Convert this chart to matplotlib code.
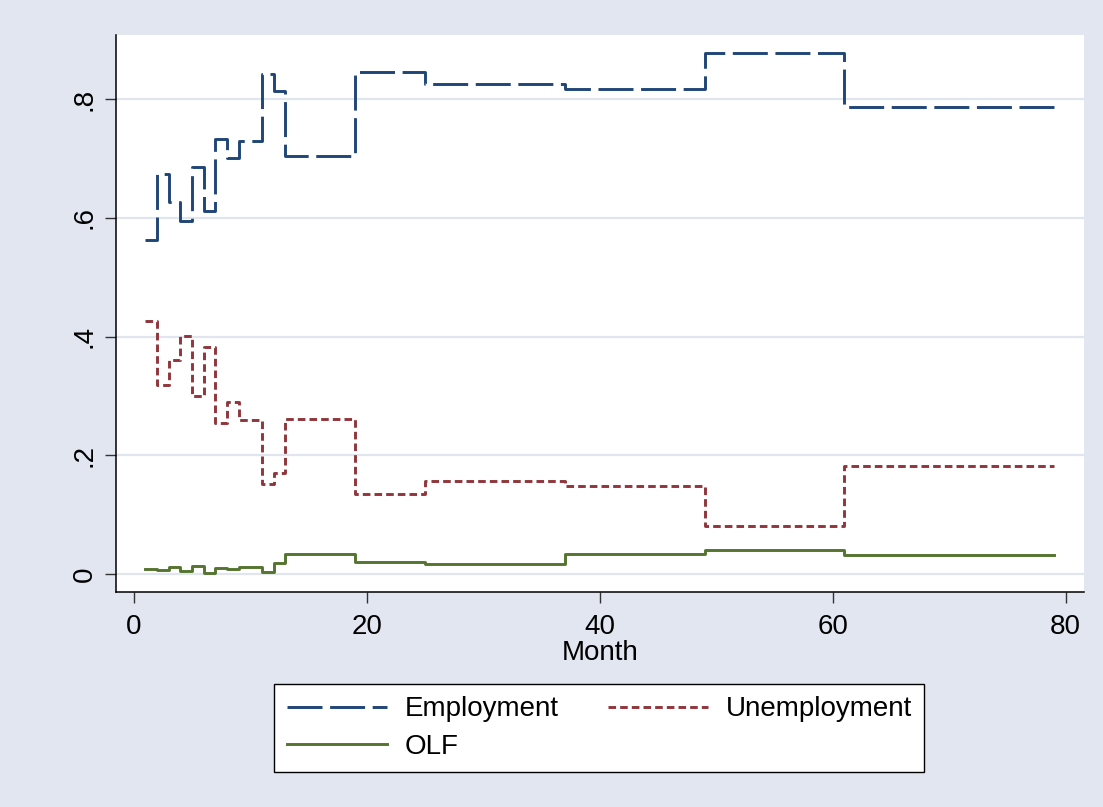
import matplotlib
matplotlib.use('Agg')
import matplotlib.pyplot as plt

plt.rcParams['font.family'] = ['Liberation Sans', 'DejaVu Sans']

months = [1, 2, 3, 4, 5, 6, 7, 8, 9, 11, 12, 13, 19, 25, 37, 49, 61, 79]
employment = [0.563, 0.674, 0.626, 0.594, 0.685, 0.612, 0.733, 0.700, 0.729,
              0.842, 0.813, 0.704, 0.845, 0.825, 0.817, 0.877, 0.786, 0.786]
unemployment = [0.427, 0.318, 0.361, 0.401, 0.300, 0.383, 0.255, 0.289, 0.260,
                0.152, 0.170, 0.261, 0.134, 0.157, 0.148, 0.081, 0.182, 0.182]
olf = [0.008, 0.006, 0.012, 0.005, 0.013, 0.002, 0.010, 0.009, 0.011,
       0.004, 0.018, 0.034, 0.020, 0.017, 0.034, 0.040, 0.032, 0.032]

xticks = [0, 20, 40, 60, 80]
yticks = [0, 0.2, 0.4, 0.6, 0.8]
ylabels = ['0', '.2', '.4', '.6', '.8']

bg = '#e1e6f0'
grid_c = '#e1e6ee'
fs = 20

fig = plt.figure(figsize=(11.03, 8.07), dpi=100, facecolor=bg)
ax = fig.add_axes([0.1052, 0.2664, 0.8776, 0.6902])
ax.set_facecolor('white')

lw = 2.1
l1, = ax.plot(months, employment, drawstyle='steps-post', color='#1f4677', lw=lw,
              dashes=(12, 2.6), label='Employment')
l2, = ax.plot(months, unemployment, drawstyle='steps-post', color='#90353b', lw=lw,
              dashes=(2.6, 1.4), label='Unemployment')
l3, = ax.plot(months, olf, drawstyle='steps-post', color='#55752f', lw=lw,
              label='OLF')

ax.set_xlim(-1.52, 81.57)
ax.set_ylim(-0.0303, 0.908)
ax.set_xticks(xticks)
ax.set_yticks(yticks)
ax.set_yticklabels(ylabels, rotation=90, va='center')
ax.tick_params(axis='both', labelsize=fs, length=8, width=1, color='#333333')
ax.tick_params(axis='x', pad=8)
ax.tick_params(axis='y', pad=5)
ax.grid(axis='y', color=grid_c, lw=1.6)
ax.set_axisbelow(True)

for s in ['top', 'right']:
    ax.spines[s].set_visible(False)
for s in ['left', 'bottom']:
    ax.spines[s].set_color('black')
    ax.spines[s].set_linewidth(1.1)

ax.set_xlabel('Month', fontsize=fs, labelpad=0)

# row-major order: Employment, Unemployment / OLF
leg = fig.legend([l1, l3, l2], ['Employment', 'OLF', 'Unemployment'],
                 loc='center', bbox_to_anchor=(0.5435, 0.0979), ncol=2,
                 fontsize=fs, frameon=True, fancybox=False, edgecolor='black',
                 facecolor='white', framealpha=1,
                 handlelength=3.6, handletextpad=0.65, columnspacing=1.75,
                 borderpad=0.45, labelspacing=0.4)
leg.get_frame().set_linewidth(1.0)

fig.savefig('out.png', dpi=100, facecolor=bg)
